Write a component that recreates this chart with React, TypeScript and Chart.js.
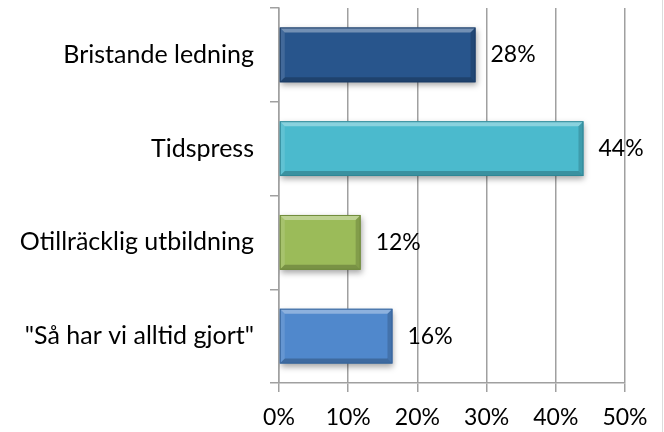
import React, { useEffect, useRef } from "react";
import { Chart, registerables } from "chart.js";

Chart.register(...registerables);

const categories = [
  "Bristande ledning",
  "Tidspress",
  "Otillräcklig utbildning",
  '"Så har vi alltid gjort"',
];
const values = [28.4, 44, 11.8, 16.4];
const valueLabels = ["28%", "44%", "12%", "16%"];
const barColors = ["#28558c", "#4bbacd", "#9bbb59", "#5088cc"];
const barBorders = ["#1b3c66", "#2f8796", "#6f8a3a", "#36649c"];
const xTicks = [0, 10, 20, 30, 40, 50];

const FONT = "Lato, 'Open Sans', sans-serif";

const shadowPlugin = {
  id: "barShadow",
  beforeDatasetsDraw(chart: any) {
    const ctx = chart.ctx;
    ctx.save();
    ctx.shadowColor = "rgba(0,0,0,0.35)";
    ctx.shadowBlur = 6;
    ctx.shadowOffsetX = 1;
    ctx.shadowOffsetY = 3;
  },
  afterDatasetsDraw(chart: any) {
    const ctx = chart.ctx;
    ctx.restore();
    const meta = chart.getDatasetMeta(0);
    meta.data.forEach((bar: any, i: number) => {
      const { x, y, base, height } = bar.getProps(["x", "y", "base", "height"], true);
      const l = Math.min(base, x);
      const r = Math.max(base, x);
      const t = y - height / 2;
      const b = y + height / 2;
      const w = 5;
      const poly = (pts: number[][], color: string) => {
        ctx.beginPath();
        ctx.moveTo(pts[0][0], pts[0][1]);
        for (let k = 1; k < pts.length; k++) ctx.lineTo(pts[k][0], pts[k][1]);
        ctx.closePath();
        ctx.fillStyle = color;
        ctx.fill();
      };
      ctx.save();
      poly([[l, t], [r, t], [r - w, t + w], [l + w, t + w]], "rgba(255,255,255,0.35)");
      poly([[l, b], [r, b], [r - w, b - w], [l + w, b - w]], "rgba(0,0,0,0.22)");
      poly([[l, t], [l + w, t + w], [l + w, b - w], [l, b]], "rgba(255,255,255,0.12)");
      poly([[r, t], [r - w, t + w], [r - w, b - w], [r, b]], "rgba(0,0,0,0.16)");
      ctx.strokeStyle = barBorders[i];
      ctx.lineWidth = 1;
      ctx.strokeRect(l + 0.5, t + 0.5, r - l - 1, b - t - 1);
      ctx.fillStyle = "#000";
      ctx.font = `23px ${FONT}`;
      ctx.textBaseline = "middle";
      ctx.textAlign = "left";
      ctx.fillText(valueLabels[i], r + 15, y);
      ctx.restore();
    });
    ctx.save();
    ctx.strokeStyle = "#dcdcdc";
    ctx.lineWidth = 1;
    ctx.beginPath();
    ctx.moveTo(662.5, 0);
    ctx.lineTo(662.5, chart.height);
    ctx.stroke();
    ctx.restore();
  },
};

export default function App() {
  const ref = useRef<HTMLCanvasElement | null>(null);
  useEffect(() => {
    document.body.style.margin = "0";
    const chart = new Chart(ref.current as HTMLCanvasElement, {
      type: "bar",
      data: {
        labels: categories,
        datasets: [
          {
            data: values,
            backgroundColor: barColors,
            borderWidth: 0,
            categoryPercentage: 1,
            barPercentage: 0.585,
          },
        ],
      },
      plugins: [shadowPlugin],
      options: {
        indexAxis: "y",
        animation: false,
        responsive: false,
        maintainAspectRatio: false,
        layout: { padding: { top: 8, right: 39, left: 0, bottom: 0 } },
        plugins: { legend: { display: false }, tooltip: { enabled: false } },
        scales: {
          x: {
            min: 0,
            max: 50,
            afterBuildTicks: (axis: any) => {
              axis.ticks = xTicks.map((v) => ({ value: v }));
            },
            afterFit: (axis: any) => {
              axis.height = 49;
              axis.paddingLeft = 0;
              axis.paddingRight = 0;
            },
            ticks: {
              callback: (v: any) => `${v}%`,
              color: "#000",
              font: { family: FONT, size: 23 },
              padding: 12,
              maxRotation: 0,
            },
            grid: { color: "#a0a0a0", lineWidth: 1.5, tickLength: 9 },
            border: { color: "#a0a0a0", width: 1.5 },
          },
          y: {
            afterFit: (axis: any) => {
              axis.width = 279;
              axis.paddingTop = 0;
              axis.paddingBottom = 0;
            },
            ticks: {
              color: "#000",
              font: { family: FONT, size: 25 },
              padding: 16,
            },
            grid: {
              offset: true,
              drawOnChartArea: false,
              color: "#a0a0a0",
              lineWidth: 1.5,
              tickLength: 9,
            },
            border: { color: "#a0a0a0", width: 1.5 },
          },
        },
      },
    } as any);
    return () => chart.destroy();
  }, []);
  return (
    <div style={{ position: "absolute", left: 0, top: 0, width: 664, height: 432, background: "#fff" }}>
      <canvas ref={ref} width={664} height={432} style={{ width: 664, height: 432 }} />
    </div>
  );
}
